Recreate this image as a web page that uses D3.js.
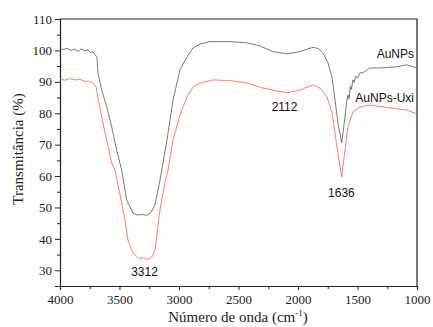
<!DOCTYPE html>
<html>
<head>
<meta charset="utf-8">
<script src="https://cdn.jsdelivr.net/npm/d3@7"></script>
<style>
  body { margin: 0; background: #fff; }
  .tick line, .domain { stroke: #222; }
</style>
</head>
<body>
<div id="chart"></div>
<script>
// wavenumber (cm-1) and transmittance (%)
const aunpsWn = [4000, 3970, 3940, 3910, 3880, 3850, 3820, 3790, 3765, 3745, 3723, 3705, 3690, 3681, 3650, 3608, 3566, 3524, 3482, 3440, 3387, 3350, 3310, 3270, 3235, 3202, 3160, 3101, 3050, 2992, 2933, 2882, 2824, 2740, 2571, 2429, 2319, 2210, 2093, 1983, 1874, 1830, 1790, 1748, 1714, 1689, 1664, 1633, 1605, 1592, 1580, 1572, 1560, 1552, 1538, 1528, 1515, 1500, 1479, 1450, 1395, 1311, 1168, 1084, 1000];
const aunpsT = [100.5, 100.3, 100.7, 100.0, 100.4, 99.7, 100.5, 99.9, 100.2, 99.3, 99.6, 98.6, 98.0, 92.8, 87.4, 82.1, 75.7, 68.3, 61.9, 52.4, 48.2, 47.6, 47.8, 47.5, 48.4, 50.8, 58.7, 71.5, 84.2, 93.8, 97.9, 100.8, 102.0, 102.8, 102.8, 102.4, 101.4, 99.6, 98.9, 99.6, 101.0, 100.6, 99.2, 96.0, 91.5, 84.2, 76.9, 70.5, 78.8, 83.6, 85.8, 84.6, 88.6, 87.6, 90.6, 89.8, 91.8, 91.2, 92.8, 93.0, 94.4, 94.4, 94.8, 95.4, 94.4];

const uxiWn = [4000, 3960, 3920, 3874, 3830, 3790, 3765, 3723, 3697, 3681, 3650, 3608, 3566, 3538, 3482, 3454, 3429, 3387, 3353, 3330, 3300, 3270, 3245, 3227, 3202, 3160, 3118, 3092, 3050, 2992, 2933, 2882, 2824, 2714, 2571, 2429, 2294, 2151, 2093, 1983, 1874, 1815, 1756, 1714, 1672, 1633, 1605, 1580, 1538, 1479, 1395, 1227, 1084, 1000];
const uxiT = [90.9, 90.5, 91.0, 90.6, 90.8, 90.1, 90.3, 89.6, 88.4, 84.8, 78.9, 71.5, 64.2, 61.9, 51.4, 46.0, 39.6, 35.5, 34.2, 33.6, 34.0, 33.4, 33.9, 34.3, 36.5, 49.2, 57.8, 61.9, 71.5, 79.4, 85.2, 88.4, 89.6, 90.6, 90.4, 89.6, 88.0, 86.9, 86.5, 87.4, 89.0, 88.0, 85.2, 80.1, 69.2, 59.7, 68.3, 75.6, 80.4, 82.0, 82.6, 81.7, 81.0, 79.8];

const xTicks = [4000, 3500, 3000, 2500, 2000, 1500, 1000];
const xMinor = [3750, 3250, 2750, 2250, 1750, 1250];
const yTicks = [30, 40, 50, 60, 70, 80, 90, 100, 110];
const yMinor = [35, 45, 55, 65, 75, 85, 95, 105];

const peakLabels = [
  { wn: 3290, t: 28.2, text: "3312" },
  { wn: 2113, t: 80.8, text: "2112" },
  { wn: 1635, t: 53.4, text: "1636" }
];
const seriesLabels = [
  { wn: 1025, t: 97.7, text: "AuNPs" },
  { wn: 1025, t: 83.6, text: "AuNPs-Uxi" }
];

const width = 433;
const height = 327;
const margin = { top: 19, right: 16, bottom: 41, left: 60 };

const svg = d3.select("#chart").append("svg")
  .attr("width", width)
  .attr("height", height);

const x = d3.scaleLinear().domain([4000, 1000]).range([margin.left, width - margin.right]);
const y = d3.scaleLinear().domain([25, 110]).range([height - margin.bottom, margin.top]);

// frame (top & right)
svg.append("path")
  .attr("d", `M${x(4000)},${y(110)}H${x(1000)}V${y(25)}`)
  .attr("fill", "none")
  .attr("stroke", "#222")
  .attr("stroke-width", 1.2);

svg.append("g")
  .attr("transform", `translate(0,${y(25)})`)
  .call(d3.axisBottom(x).tickValues(xTicks).tickSize(4).tickPadding(5).tickFormat(d3.format("d")));
svg.append("g")
  .attr("transform", `translate(0,${y(25)})`)
  .call(d3.axisBottom(x).tickValues(xMinor).tickSize(3).tickFormat(""))
  .select(".domain").remove();

svg.append("g")
  .attr("transform", `translate(${x(4000)},0)`)
  .call(d3.axisLeft(y).tickValues(yTicks).tickSize(5).tickPadding(3));
svg.append("g")
  .attr("transform", `translate(${x(4000)},0)`)
  .call(d3.axisLeft(y).tickValues(yMinor).tickSize(3).tickFormat(""))
  .select(".domain").remove();

svg.selectAll(".domain").attr("stroke-width", 1.2);
svg.selectAll(".tick text")
  .attr("font-family", "Liberation Serif, serif")
  .attr("font-size", 13)
  .attr("fill", "#222");

const line = d3.line().x((d) => x(d[0])).y((d) => y(d[1]));

svg.append("path")
  .datum(aunpsWn.map((w, i) => [w, aunpsT[i]]))
  .attr("d", line)
  .attr("fill", "none")
  .attr("stroke", "#555")
  .attr("stroke-width", 0.8);

svg.append("path")
  .datum(uxiWn.map((w, i) => [w, uxiT[i]]))
  .attr("d", line)
  .attr("fill", "none")
  .attr("stroke", "#ff5a5a")
  .attr("stroke-width", 0.8);

svg.selectAll(".peak")
  .data(peakLabels)
  .enter()
  .append("text")
  .attr("x", (d) => x(d.wn))
  .attr("y", (d) => y(d.t))
  .attr("text-anchor", "middle")
  .attr("font-family", "Liberation Sans, Arial, sans-serif")
  .attr("font-size", 12)
  .attr("fill", "#111")
  .text((d) => d.text);

svg.selectAll(".series")
  .data(seriesLabels)
  .enter()
  .append("text")
  .attr("x", (d) => x(d.wn))
  .attr("y", (d) => y(d.t))
  .attr("text-anchor", "end")
  .attr("font-family", "Liberation Sans, Arial, sans-serif")
  .attr("font-size", 12)
  .attr("fill", "#111")
  .text((d) => d.text);

// axis titles
const xTitle = svg.append("text")
  .attr("x", 238)
  .attr("y", 322)
  .attr("text-anchor", "middle")
  .attr("font-family", "Liberation Serif, serif")
  .attr("font-size", 15)
  .attr("fill", "#222");
xTitle.append("tspan").text("Número de onda (cm");
xTitle.append("tspan").attr("dy", -6).attr("font-size", 9).text("-1");
xTitle.append("tspan").attr("dy", 6).text(")");

svg.append("text")
  .attr("transform", "translate(23,149) rotate(-90)")
  .attr("text-anchor", "middle")
  .attr("font-family", "Liberation Serif, serif")
  .attr("font-size", 15)
  .attr("fill", "#222")
  .text("Transmitância (%)");
</script>
</body>
</html>
